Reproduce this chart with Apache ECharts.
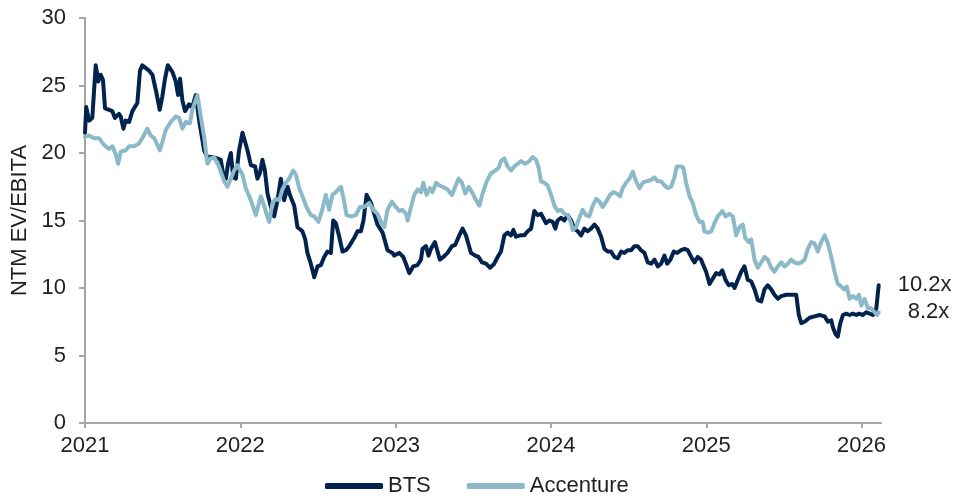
<!DOCTYPE html>
<html>
<head>
<meta charset="utf-8">
<script src="https://cdn.jsdelivr.net/npm/echarts@6/dist/echarts.min.js"></script>
<style>
html,body{margin:0;padding:0;background:#fff;}
#chart{width:957px;height:498px;}
</style>
</head>
<body>
<div id="chart"></div>
<script>
var yearTicks = [2021, 2022, 2023, 2024, 2025, 2026];
var seriesNames = ['BTS', 'Accenture'];

var btsYears = [
2021.000,2021.008,2021.026,2021.047,2021.069,2021.086,2021.101,2021.116,2021.129,2021.155,
2021.176,2021.193,2021.219,2021.230,2021.247,2021.262,2021.284,2021.305,2021.337,2021.354,
2021.369,2021.412,2021.434,2021.459,2021.481,2021.498,2021.515,2021.533,2021.563,2021.584,
2021.599,2021.612,2021.627,2021.644,2021.670,2021.691,2021.713,2021.735,2021.767,2021.788,
2021.820,2021.852,2021.874,2021.889,2021.907,2021.921,2021.939,2021.954,2021.971,2021.992,
2022.014,2022.046,2022.068,2022.095,2022.110,2022.126,2022.142,2022.158,2022.175,2022.197,
2022.218,2022.239,2022.261,2022.282,2022.304,2022.319,2022.347,2022.368,2022.400,2022.418,
2022.432,2022.454,2022.476,2022.497,2022.519,2022.540,2022.561,2022.583,2022.598,2022.615,
2022.637,2022.658,2022.680,2022.701,2022.733,2022.754,2022.776,2022.793,2022.813,2022.841,
2022.862,2022.883,2022.916,2022.948,2022.980,2022.991,
2023.023,2023.049,2023.066,2023.088,2023.113,2023.141,2023.163,2023.173,2023.195,2023.212,
2023.227,2023.253,2023.270,2023.285,2023.307,2023.334,2023.363,2023.384,2023.410,2023.431,
2023.453,2023.470,2023.485,2023.513,2023.534,2023.556,2023.582,2023.608,2023.635,2023.657,
2023.678,2023.700,2023.721,2023.743,2023.758,2023.775,2023.801,2023.829,2023.850,2023.872,
2023.893,2023.914,2023.936,2023.968,2023.990,
2024.011,2024.028,2024.043,2024.065,2024.086,2024.108,2024.130,2024.151,2024.172,2024.194,
2024.215,2024.236,2024.258,2024.280,2024.301,2024.323,2024.344,2024.365,2024.387,2024.409,
2024.430,2024.452,2024.473,2024.494,2024.516,2024.537,2024.559,2024.580,2024.602,2024.623,
2024.645,2024.666,2024.688,2024.709,2024.731,2024.748,2024.769,2024.791,2024.813,2024.838,
2024.860,2024.881,2024.903,2024.924,2024.945,2024.967,2024.977,2024.999,
2025.021,2025.042,2025.064,2025.085,2025.103,2025.124,2025.145,2025.167,2025.182,2025.203,
2025.225,2025.246,2025.267,2025.289,2025.311,2025.332,2025.354,2025.375,2025.396,2025.418,
2025.439,2025.461,2025.483,2025.515,2025.547,2025.579,2025.596,2025.612,2025.633,2025.665,
2025.697,2025.729,2025.762,2025.783,2025.805,2025.815,2025.832,2025.847,2025.863,2025.880,
2025.901,2025.923,2025.944,2025.966,2025.983,
2026.008,2026.030,2026.052,2026.073,2026.095,2026.110
];
var btsValues = [
21.5,23.4,22.4,22.6,26.5,25.3,25.8,25.4,23.3,23.2,
23.1,22.6,22.9,22.7,21.8,22.4,22.3,23.1,23.7,26.1,
26.5,26.1,25.8,24.5,23.2,24.2,25.5,26.5,26.0,25.3,
24.3,25.5,23.9,23.1,23.6,23.4,24.3,22.4,20.2,19.7,
19.7,19.6,19.5,18.5,18.1,19.2,20.0,18.2,18.1,20.2,
21.5,20.2,19.1,19.0,18.1,18.5,19.5,18.7,17.0,16.0,
15.3,16.5,18.1,16.5,17.5,16.9,16.1,14.5,14.2,13.6,
12.6,11.8,10.8,11.6,11.7,12.3,12.7,12.6,15.0,14.8,
13.8,12.7,12.8,13.1,13.7,14.2,14.2,15.0,16.9,16.3,
15.5,14.7,14.1,12.8,12.6,12.4,
12.6,12.3,11.8,11.1,11.6,11.7,12.1,12.9,13.1,12.4,
12.9,13.4,12.7,12.1,12.3,12.6,13.1,13.2,13.9,14.4,
13.9,13.2,12.6,12.4,12.3,11.9,11.8,11.5,11.8,12.3,
12.7,13.9,14.1,13.9,14.3,13.8,13.9,13.9,14.2,14.4,
15.7,15.4,15.5,14.8,15.0,
14.9,14.4,15.0,15.2,15.0,15.4,15.0,14.4,14.2,13.9,
14.4,14.2,14.4,14.7,14.4,13.8,12.9,12.7,12.7,12.3,
12.2,12.7,12.6,12.8,12.8,13.1,13.1,12.8,12.6,11.9,
11.8,12.1,11.6,11.8,12.4,11.8,12.1,12.7,12.6,12.8,
12.9,12.8,12.3,11.9,12.3,12.1,11.8,11.2,
10.3,10.7,11.1,11.0,11.3,10.6,10.2,10.3,10.0,10.6,
11.2,11.6,10.6,10.5,9.9,9.1,9.0,9.9,10.2,9.9,
9.5,9.2,9.4,9.5,9.5,9.5,8.0,7.4,7.5,7.8,
7.9,8.0,7.9,7.5,7.6,7.1,6.6,6.4,7.4,8.0,
8.1,8.0,8.1,8.0,8.1,
8.0,8.2,8.1,8.0,8.5,10.2
];

var accYears = [
2021.000,2021.026,2021.058,2021.090,2021.122,2021.155,2021.176,2021.198,2021.213,2021.230,
2021.262,2021.284,2021.316,2021.348,2021.374,2021.401,2021.423,2021.445,2021.466,2021.481,
2021.498,2021.520,2021.552,2021.584,2021.606,2021.627,2021.649,2021.675,2021.691,2021.724,
2021.745,2021.767,2021.788,2021.810,2021.831,2021.863,2021.896,2021.917,2021.939,2021.960,
2021.981,
2022.014,2022.035,2022.068,2022.100,2022.132,2022.153,2022.171,2022.186,2022.207,
2022.229,2022.250,2022.271,2022.293,2022.314,2022.340,2022.358,2022.379,2022.400,2022.426,
2022.454,2022.476,2022.503,2022.525,2022.551,2022.572,2022.593,2022.615,2022.648,2022.669,
2022.684,2022.712,2022.744,2022.770,2022.798,2022.830,2022.856,2022.883,2022.905,2022.927,
2022.948,2022.976,
2023.002,2023.023,2023.044,2023.066,2023.077,2023.099,2023.120,2023.141,
2023.163,2023.178,2023.199,2023.221,2023.238,2023.260,2023.281,2023.302,2023.334,2023.363,
2023.384,2023.405,2023.427,2023.448,2023.470,2023.492,2023.513,2023.539,2023.560,2023.586,
2023.614,2023.642,2023.663,2023.678,2023.700,2023.721,2023.743,2023.764,2023.786,2023.807,
2023.835,2023.861,2023.882,2023.904,2023.921,2023.936,2023.957,2023.979,
2024.001,2024.022,
2024.043,2024.065,2024.086,2024.108,2024.130,2024.140,2024.162,2024.183,2024.204,2024.226,
2024.247,2024.269,2024.291,2024.312,2024.333,2024.355,2024.381,2024.402,2024.423,2024.445,
2024.462,2024.484,2024.505,2024.527,2024.548,2024.570,2024.591,2024.613,2024.644,2024.666,
2024.688,2024.709,2024.731,2024.752,2024.774,2024.795,2024.810,2024.838,2024.853,2024.870,
2024.892,2024.913,2024.935,2024.956,2024.977,2024.988,
2025.010,2025.032,2025.053,2025.074,
2025.103,2025.124,2025.149,2025.171,2025.193,2025.214,2025.235,2025.251,2025.274,2025.289,
2025.311,2025.332,2025.354,2025.375,2025.396,2025.418,2025.439,2025.461,2025.483,2025.504,
2025.525,2025.547,2025.568,2025.590,2025.612,2025.633,2025.654,2025.676,2025.697,2025.718,
2025.740,2025.762,2025.783,2025.805,2025.826,2025.847,2025.869,2025.890,2025.905,2025.923,
2025.944,2025.966,2025.983,2025.998,
2026.019,2026.041,2026.062,2026.084,2026.100,2026.110
];
var accValues = [
21.2,21.3,21.1,21.1,20.6,20.3,20.5,19.9,19.2,20.1,
20.2,20.5,20.5,20.7,21.2,21.8,21.3,21.1,20.6,20.2,
20.8,21.7,22.3,22.7,22.6,21.8,22.3,22.2,23.2,24.3,
22.7,21.2,19.2,19.6,19.7,19.0,17.9,17.5,18.1,18.7,
19.1,
18.4,17.4,16.5,15.4,16.8,16.1,15.4,14.9,16.3,
16.6,16.5,17.3,17.8,18.1,18.7,18.4,17.4,16.8,16.0,
15.4,15.3,14.9,15.7,16.9,15.8,16.9,17.1,17.5,16.4,
15.4,15.3,15.4,16.0,16.0,16.3,15.8,15.5,14.9,14.5,
15.8,16.4,
16.0,15.7,15.8,15.5,15.0,16.0,16.9,17.3,
17.1,17.8,16.9,17.4,17.1,17.8,17.6,17.5,17.3,16.9,
17.5,18.1,17.8,17.0,17.5,17.1,16.6,16.1,17.0,17.9,
18.5,18.7,18.9,19.4,19.6,19.0,18.7,19.0,19.2,19.4,
19.2,19.4,19.7,19.5,18.9,17.9,17.8,17.6,
16.9,16.1,
15.7,15.8,15.5,15.4,14.8,14.3,14.5,15.2,15.8,15.4,
15.3,16.1,16.6,16.4,16.0,16.4,16.9,17.1,17.0,16.8,
17.4,17.8,18.1,18.6,17.9,17.4,17.8,17.9,18.0,18.2,
17.9,17.9,17.6,17.4,17.5,18.2,19.0,19.0,18.9,17.8,
16.8,16.3,15.4,14.9,14.9,14.2,
14.1,14.2,14.8,15.3,
15.7,15.3,15.5,15.3,13.9,14.5,14.7,13.7,13.4,13.6,
12.1,11.5,11.9,12.3,12.1,11.5,11.2,11.6,11.9,11.6,
11.8,12.1,11.9,11.8,11.9,12.1,12.9,13.4,13.3,12.7,
13.4,13.9,13.3,12.3,11.2,10.3,10.1,9.9,10.1,9.2,
9.4,9.2,9.5,8.7,
9.2,8.5,8.5,8.2,8.0,8.2
];

function zip(xs, ys) {
  var out = [];
  var n = Math.min(xs.length, ys.length);
  for (var i = 0; i < n; i++) out.push([xs[i], ys[i]]);
  return out;
}

var FONT = "'Liberation Sans', Arial, sans-serif";
var FS = 22;
var TXT = '#1f1f1f';
var AXIS = '#a6a6a6';
var colors = ['#03234f', '#8cb9c8'];

var chart = echarts.init(document.getElementById('chart'), null, {renderer: 'canvas'});
chart.setOption({
  animation: false,
  textStyle: {fontFamily: FONT, color: TXT},
  color: colors,
  grid: {left: 85, right: 76, top: 18, bottom: 75, containLabel: false},
  legend: {
    data: seriesNames,
    left: 320,
    top: 470,
    icon: 'roundRect',
    itemWidth: 58,
    itemHeight: 6,
    itemGap: 36,
    textStyle: {fontSize: FS, color: TXT, fontFamily: FONT}
  },
  xAxis: {
    type: 'value',
    min: 2021,
    max: 2026.125,
    splitLine: {show: false},
    axisLine: {show: true, lineStyle: {color: AXIS, width: 2}},
    axisTick: {show: true, length: 5, customValues: yearTicks, lineStyle: {color: AXIS, width: 2}},
    axisLabel: {
      customValues: yearTicks,
      fontSize: FS, color: TXT, margin: 12, fontFamily: FONT,
      formatter: function (v) { return String(Math.round(v)); }
    }
  },
  yAxis: {
    type: 'value',
    min: 0, max: 30, interval: 5,
    name: 'NTM EV/EBITA',
    nameLocation: 'middle',
    nameGap: 52,
    nameTextStyle: {fontSize: FS, color: TXT, fontFamily: FONT},
    splitLine: {show: false},
    axisLine: {show: true, lineStyle: {color: AXIS, width: 2}},
    axisTick: {show: true, length: 6, lineStyle: {color: AXIS, width: 2}},
    axisLabel: {fontSize: FS, color: TXT, margin: 19, fontFamily: FONT}
  },
  series: [
    {
      name: seriesNames[0], type: 'line', data: zip(btsYears, btsValues),
      showSymbol: false, symbol: 'none',
      lineStyle: {width: 4, color: colors[0], cap: 'round', join: 'round'},
      endLabel: {show: true, distance: 19, fontSize: FS, color: TXT, fontFamily: FONT,
        formatter: function (p) { return p.value[1].toFixed(1) + 'x'; }}
    },
    {
      name: seriesNames[1], type: 'line', data: zip(accYears, accValues),
      showSymbol: false, symbol: 'none',
      lineStyle: {width: 4, color: colors[1], cap: 'round', join: 'round'},
      endLabel: {show: true, distance: 29, fontSize: FS, color: TXT, fontFamily: FONT,
        formatter: function (p) { return p.value[1].toFixed(1) + 'x'; }}
    }
  ]
});
</script>
</body>
</html>
